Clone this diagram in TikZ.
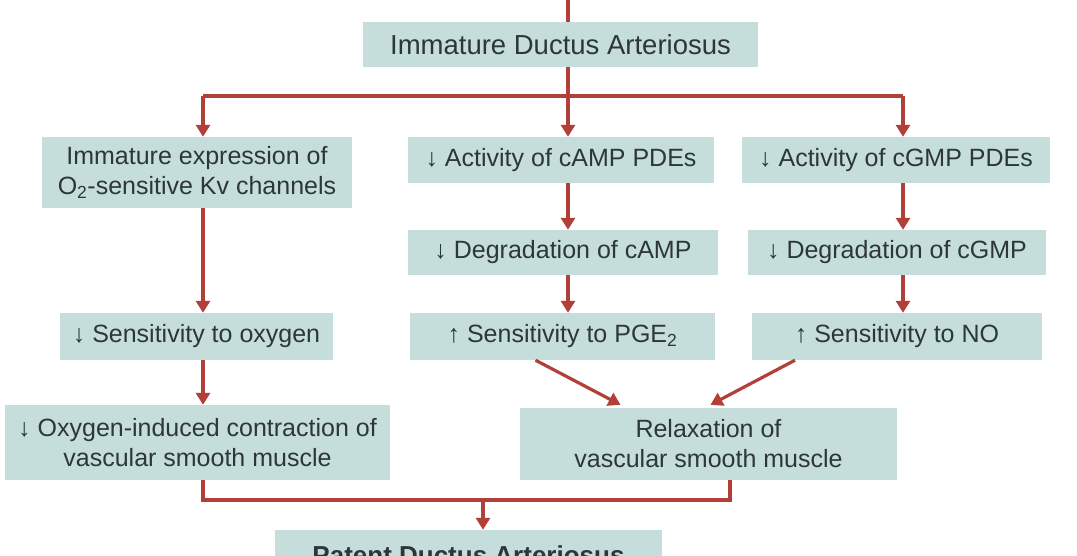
\documentclass[tikz,border=0pt]{standalone}
\usepackage{fontspec}
\setmainfont{Liberation Sans}
\usepackage{xcolor}
\usetikzlibrary{arrows.meta}
\definecolor{boxfill}{RGB}{197,222,220}
\definecolor{arrowred}{RGB}{176,64,56}
\definecolor{textgrey}{RGB}{45,55,55}
\tikzset{
  box/.style={fill=boxfill, text=textgrey, inner sep=0pt, align=center, font=\fontsize{25}{30}\selectfont},
  link/.style={draw=arrowred, line width=3.2pt},
  arr/.style={link, -{Triangle[length=12pt,width=14pt]}},
}
\begin{document}
\begin{tikzpicture}[x=1pt,y=-1pt]
  \useasboundingbox (0,0) rectangle (1077,556);
  \clip (0,0) rectangle (1077,556);
  \def\rowa{160};
  \def\rowb{252.5};
  \def\rowc{336.5};
  % boxes %
  \node[box, minimum width=395pt, minimum height=45pt, font=\fontsize{27.5}{30}\selectfont] (top) at (560.5,44.5) {Immature Ductus Arteriosus};
  \node[box, minimum width=310pt, minimum height=71pt] (lexp) at (197,172.5) {Immature expression of\\O\textsubscript{2}-sensitive Kv channels};
  \node[box, minimum width=306pt, minimum height=46pt] (camp1) at (561,\rowa) {↓ Activity of cAMP PDEs};
  \node[box, minimum width=308pt, minimum height=46pt] (cgmp1) at (896,\rowa) {↓ Activity of cGMP PDEs};
  \node[box, minimum width=310pt, minimum height=45pt] (camp2) at (563,\rowb) {↓ Degradation of cAMP};
  \node[box, minimum width=298pt, minimum height=45pt] (cgmp2) at (897,\rowb) {↓ Degradation of cGMP};
  \node[box, minimum width=273pt, minimum height=47pt] (oxy) at (196.5,\rowc) {↓ Sensitivity to oxygen};
  \node[box, minimum width=305pt, minimum height=47pt] (pge) at (562.5,\rowc) {↑ Sensitivity to PGE\textsubscript{2}};
  \node[box, minimum width=290pt, minimum height=47pt] (no) at (897,\rowc) {↑ Sensitivity to NO};
  \node[box, minimum width=385pt, minimum height=75pt] (contr) at (197.5,442.5) {↓ Oxygen-induced contraction of\\vascular smooth muscle};
  \node[box, minimum width=377pt, minimum height=72pt] (relax) at (708.5,444) {Relaxation of\\vascular smooth muscle};
  \node[box, minimum width=387pt, minimum height=50pt, font=\fontsize{26}{30}\selectfont\bfseries] (pda) at (468.5,555) {Patent Ductus Arteriosus};

  % branch from the top box %
  \coordinate (src) at (568,0);
  \coordinate (colA) at (203,96);
  \coordinate (colB) at (568,96);
  \coordinate (colC) at (903,96);
  \draw[link] (src) -- (top.north -| src);
  \draw[link] (top.south -| colB) -- (colB);
  \draw[link] (colA) -- (colC);
  \draw[arr] (colA) -- (lexp.north -| colA);
  \draw[arr] (colB) -- (camp1.north -| colB);
  \draw[arr] (colC) -- (cgmp1.north -| colC);

  % columns %
  \draw[arr] (lexp.south -| colA) -- (oxy.north -| colA);
  \draw[arr] (oxy.south -| colA) -- (contr.north -| colA);
  \draw[arr] (camp1.south -| colB) -- (camp2.north -| colB);
  \draw[arr] (camp2.south -| colB) -- (pge.north -| colB);
  \draw[arr] (cgmp1.south -| colC) -- (cgmp2.north -| colC);
  \draw[arr] (cgmp2.south -| colC) -- (no.north -| colC);
  \draw[arr] ([xshift=-27pt]pge.south) -- ([xshift=-88pt,yshift=3pt]relax.north);
  \draw[arr] ([xshift=-102pt]no.south) -- ([xshift=2pt,yshift=3pt]relax.north);

  % join at the bottom %
  \coordinate (joinL) at (203,500);
  \coordinate (joinR) at (730,500);
  \coordinate (joinM) at (483,500);
  \draw[link] (contr.south -| joinL) -- (joinL) -- (joinR) -- (relax.south -| joinR);
  \draw[arr] (joinM) -- (pda.north -| joinM);
\end{tikzpicture}
\end{document}
